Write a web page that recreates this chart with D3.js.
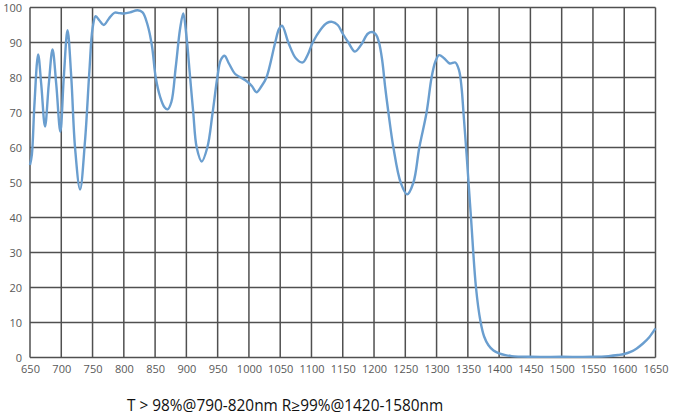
<!DOCTYPE html>
<html>
<head>
<meta charset="utf-8">
<script src="https://cdn.jsdelivr.net/npm/d3@7"></script>
<style>
  html, body { margin: 0; padding: 0; background: #fff; }
  svg { display: block; }
</style>
</head>
<body>
<div id="chart"></div>
<script>
(function () {
    "use strict";

    // wavelength (nm) and transmission (%)
    var wavelength = [650, 653, 657, 663, 668, 674, 680, 686, 692, 698.5, 704, 710, 716, 722, 730, 738, 745, 750, 755, 761, 768, 776, 785, 793, 800, 810, 822, 830, 838, 845, 851, 858, 865, 870, 876, 883, 890, 895, 900, 906, 911, 916.5, 924.5, 933.5, 942, 949.5, 955, 961, 968, 978, 987, 996, 1005, 1012, 1020, 1028, 1042, 1048, 1053, 1063, 1075, 1086, 1094, 1102, 1115, 1125, 1133, 1142, 1150, 1159, 1169.5, 1180, 1190, 1197, 1203, 1208, 1213, 1218, 1223, 1231, 1242.6, 1253, 1263, 1272.4, 1284, 1292, 1298, 1304, 1312, 1321, 1330, 1336, 1340, 1343, 1348, 1355, 1363, 1370, 1376, 1383, 1391, 1400, 1410, 1420, 1450, 1500, 1550, 1575, 1590, 1600, 1610, 1620, 1630, 1640, 1650];
    var transmission = [55, 58, 72, 86.6, 78, 66, 78, 88, 78, 64.5, 80, 93.5, 80, 60, 48, 62, 82, 94, 97.5, 96.3, 95, 96.8, 98.5, 98.4, 98.3, 98.6, 99.2, 98.6, 95, 89, 80, 74.5, 71.5, 70.9, 73, 83, 94, 98.3, 92, 80, 70, 60, 56, 60, 70, 80, 85, 86.2, 84, 81, 80, 79, 77.5, 75.8, 77.5, 80, 90, 93.8, 94.8, 90, 85.5, 84.3, 86.5, 90, 93.8, 95.6, 95.9, 95, 92.5, 90, 87.4, 89.5, 92.5, 93, 92.3, 90, 85, 77, 70, 60, 50, 46.6, 50, 60, 70, 80, 84.5, 86.4, 85.5, 84, 84.3, 82, 77, 70, 58, 40, 20, 10.5, 6, 3.5, 2, 1.2, 0.7, 0.4, 0.2, 0.2, 0.2, 0.4, 0.7, 1.0, 1.6, 2.6, 4, 5.8, 8.3];

    var xTicks = d3.range(650, 1651, 50);
    var yTicks = d3.range(0, 101, 10);
    var caption = "T > 98%@790-820nm R\u226599%@1420-1580nm";

    var config = {
        width: 675,
        height: 417,
        margin: { top: 7.5, right: 19.5, bottom: 59.5, left: 30 }
    };

    function drawGraph() {
        var margin = config.margin;
        var svg = d3.select('#chart').append('svg')
            .attr('width', config.width)
            .attr('height', config.height)
            .style('font-family', '"Open Sans", "Noto Sans", sans-serif');

        var x = d3.scaleLinear()
            .domain([650, 1650])
            .range([margin.left, config.width - margin.right]);

        var y = d3.scaleLinear()
            .domain([0, 100])
            .range([config.height - margin.bottom, margin.top]);

        var data = wavelength.map(function (w, i) { return { w: w, t: transmission[i] }; });

        // grid
        var grid = svg.append('g').attr('stroke', '#505050').attr('stroke-width', 1.5);
        grid.selectAll('line.v')
            .data(xTicks)
            .enter().append('line')
            .attr('class', 'v')
            .attr('x1', function (d) { return x(d); })
            .attr('x2', function (d) { return x(d); })
            .attr('y1', y(0))
            .attr('y2', y(100));
        grid.selectAll('line.h')
            .data(yTicks)
            .enter().append('line')
            .attr('class', 'h')
            .attr('x1', x(650))
            .attr('x2', x(1650))
            .attr('y1', function (d) { return y(d); })
            .attr('y2', function (d) { return y(d); });

        // axes (labels only)
        var xAxis = svg.append('g')
            .attr('transform', 'translate(0,' + y(0) + ')')
            .call(d3.axisBottom(x).tickValues(xTicks).tickSize(0).tickPadding(8).tickFormat(d3.format('d')));
        var yAxis = svg.append('g')
            .attr('transform', 'translate(' + x(650) + ',0)')
            .call(d3.axisLeft(y).tickValues(yTicks).tickSize(0).tickPadding(8));

        [xAxis, yAxis].forEach(function (a) {
            a.select('.domain').remove();
            a.selectAll('text')
                .attr('fill', '#595959')
                .style('font-size', '11px')
                .style('font-family', '"Open Sans", "Noto Sans", sans-serif');
        });

        // curve
        var line = d3.line()
            .x(function (d) { return x(d.w); })
            .y(function (d) { return y(d.t); })
            .curve(d3.curveCatmullRom.alpha(0.5));

        svg.append('path')
            .datum(data)
            .attr('fill', 'none')
            .attr('stroke', '#6a9ecf')
            .attr('stroke-width', 2.4)
            .attr('stroke-linejoin', 'round')
            .attr('d', line);

        svg.append('text')
            .attr('x', 127)
            .attr('y', 410.5)
            .attr('fill', '#111')
            .style('font-size', '15.4px')
            .text(caption);
    }

    drawGraph();
})();
</script>
</body>
</html>
